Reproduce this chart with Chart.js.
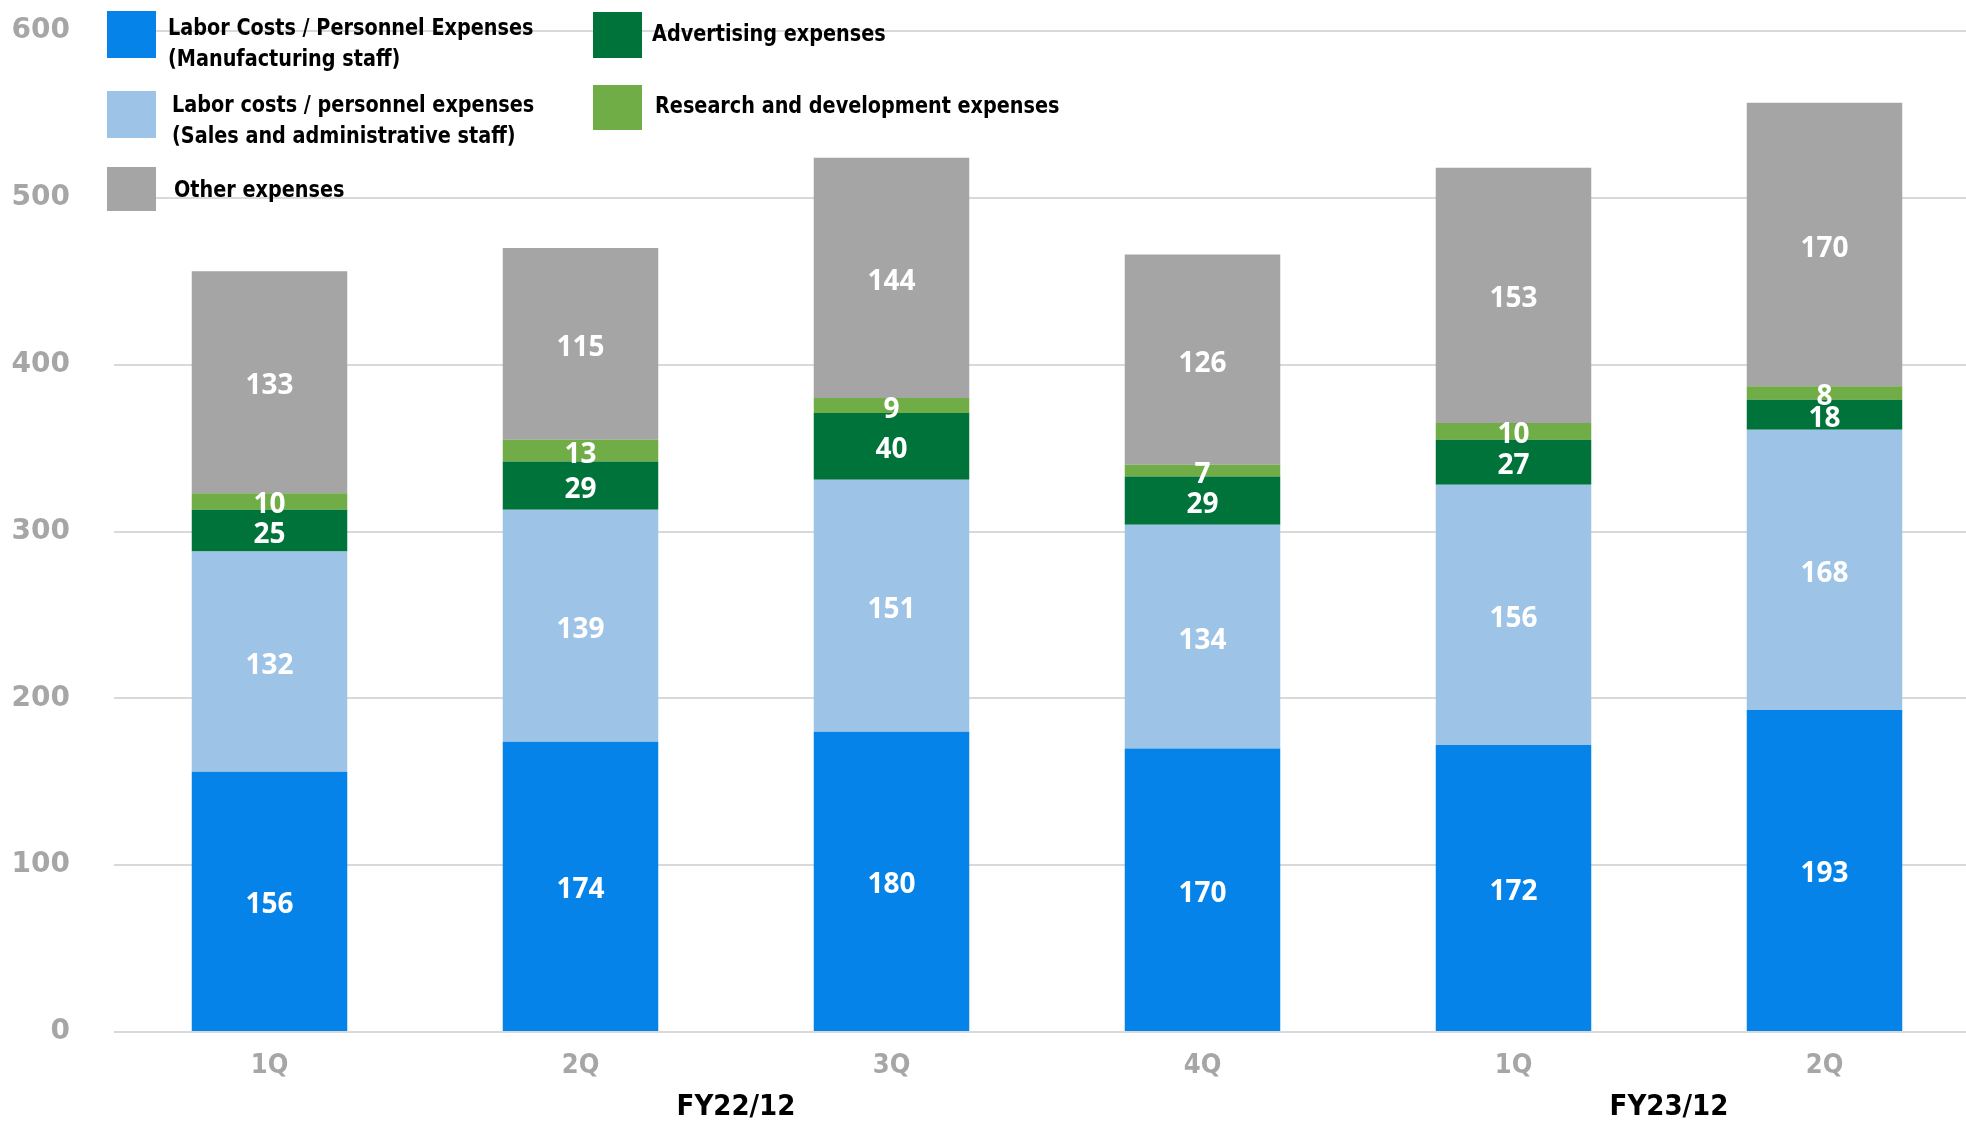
<!DOCTYPE html>
<html lang="en">
<head>
<meta charset="UTF-8">
<title>Expenses by quarter</title>
<script src="https://cdn.jsdelivr.net/npm/chart.js"></script>
<style>
  body { margin: 0; background: #fff; overflow: hidden; }
  #wrap { position: relative; width: 1966px; height: 1122px; overflow: hidden; }
  .lt { position: absolute; white-space: nowrap; font-family: "DejaVu Sans Condensed", "DejaVu Sans", sans-serif;
        font-weight: bold; font-size: 23px; color: #000; line-height: 31px;
        transform: scaleX(0.93); transform-origin: left center; }
  .sw { position: absolute; }
</style>
</head>
<body>
<div id="wrap">
  <canvas id="myChart" width="1980" height="1122"></canvas>
  <div id="legend"></div>
</div>
<script>
const categories = ['1Q', '2Q', '3Q', '4Q', '1Q', '2Q'];
const fiscalYears = [
  { label: 'FY22/12', from: 0, to: 3 },
  { label: 'FY23/12', from: 4, to: 5 }
];
const manufacturingStaff = [156, 174, 180, 170, 172, 193];
const salesAdminStaff = [132, 139, 151, 134, 156, 168];
const advertising = [25, 29, 40, 29, 27, 18];
const researchDev = [10, 13, 9, 7, 10, 8];
const otherExpenses = [133, 115, 144, 126, 153, 170];

const seriesNames = [
  'Labor Costs / Personnel Expenses\n(Manufacturing staff)',
  'Labor costs / personnel expenses\n(Sales and administrative staff)',
  'Advertising expenses',
  'Research and development expenses',
  'Other expenses'
];
const colors = ['#0683E8', '#9DC3E6', '#00733A', '#70AD47', '#A5A5A5'];
const allSeries = [manufacturingStaff, salesAdminStaff, advertising, researchDev, otherExpenses];

// legend placed like the original: two columns in the top left corner
const legendPos = [
  { sx: 107, sy: 11, sh: 47, tx: 168, ty: 12 },
  { sx: 107, sy: 91, sh: 47, tx: 172, ty: 89 },
  { sx: 593, sy: 12, sh: 46, tx: 652, ty: 18 },
  { sx: 593, sy: 85, sh: 45, tx: 655, ty: 90 },
  { sx: 107, sy: 167, sh: 44, tx: 174, ty: 174 }
];
const legendEl = document.getElementById('legend');
seriesNames.forEach((name, i) => {
  const p = legendPos[i];
  const sw = document.createElement('div');
  sw.className = 'sw';
  sw.style.cssText = `left:${p.sx}px;top:${p.sy}px;width:49px;height:${p.sh}px;background:${colors[i]}`;
  legendEl.appendChild(sw);
  const t = document.createElement('div');
  t.className = 'lt';
  t.style.left = p.tx + 'px';
  t.style.top = p.ty + 'px';
  t.innerHTML = name.replace('\n', '<br>');
  legendEl.appendChild(t);
});

const narrow = '"DejaVu Sans Condensed", "DejaVu Sans", sans-serif';

const valueLabels = {
  id: 'valueLabels',
  afterDatasetsDraw(chart) {
    const ctx = chart.ctx;
    ctx.save();
    ctx.fillStyle = '#fff';
    ctx.font = 'bold 28px "Open Sans", sans-serif';
    ctx.textAlign = 'center';
    ctx.textBaseline = 'middle';
    chart.data.datasets.forEach((ds, di) => {
      chart.getDatasetMeta(di).data.forEach((bar, i) => {
        ctx.fillText(ds.data[i], bar.x, (bar.y + bar.base) / 2 + 4);
      });
    });
    ctx.restore();
  }
};

const yearLabels = {
  id: 'yearLabels',
  afterDraw(chart) {
    const ctx = chart.ctx;
    const x = chart.scales.x;
    ctx.save();
    ctx.fillStyle = '#000';
    ctx.font = 'bold 29px ' + narrow;
    ctx.textAlign = 'center';
    ctx.textBaseline = 'middle';
    fiscalYears.forEach(fy => {
      const cx = (x.getPixelForValue(fy.from) + x.getPixelForValue(fy.to)) / 2;
      ctx.fillText(fy.label, cx, 1107);
    });
    ctx.restore();
  }
};

new Chart(document.getElementById('myChart'), {
  type: 'bar',
  data: {
    labels: categories,
    datasets: allSeries.map((d, i) => ({
      label: seriesNames[i],
      data: d,
      backgroundColor: colors[i],
      borderWidth: 0,
      categoryPercentage: 1,
      barPercentage: 0.5
    }))
  },
  options: {
    responsive: false,
    animation: false,
    layout: { padding: { top: 31, right: 0, bottom: 0, left: 0 } },
    plugins: { legend: { display: false }, tooltip: { enabled: false } },
    scales: {
      x: {
        stacked: true,
        grid: { display: false },
        border: { display: false },
        ticks: {
          color: '#A6A6A6',
          font: { family: narrow, size: 27, weight: 'bold' },
          padding: 10
        },
        afterFit(s) { s.height = 90; }
      },
      y: {
        stacked: true,
        min: 0,
        max: 600,
        ticks: {
          stepSize: 100,
          color: '#A6A6A6',
          font: { family: '"DejaVu Sans"', size: 28, weight: 'bold' },
          padding: 44
        },
        grid: { color: '#D9D9D9', lineWidth: 2, drawTicks: false },
        border: { display: false },
        afterFit(s) {
          s.width = 114;
          // tick padding would otherwise push the plot top down
          s.paddingTop = 0;
          s.paddingBottom = 0;
        }
      }
    }
  },
  plugins: [valueLabels, yearLabels]
});
</script>
</body>
</html>
